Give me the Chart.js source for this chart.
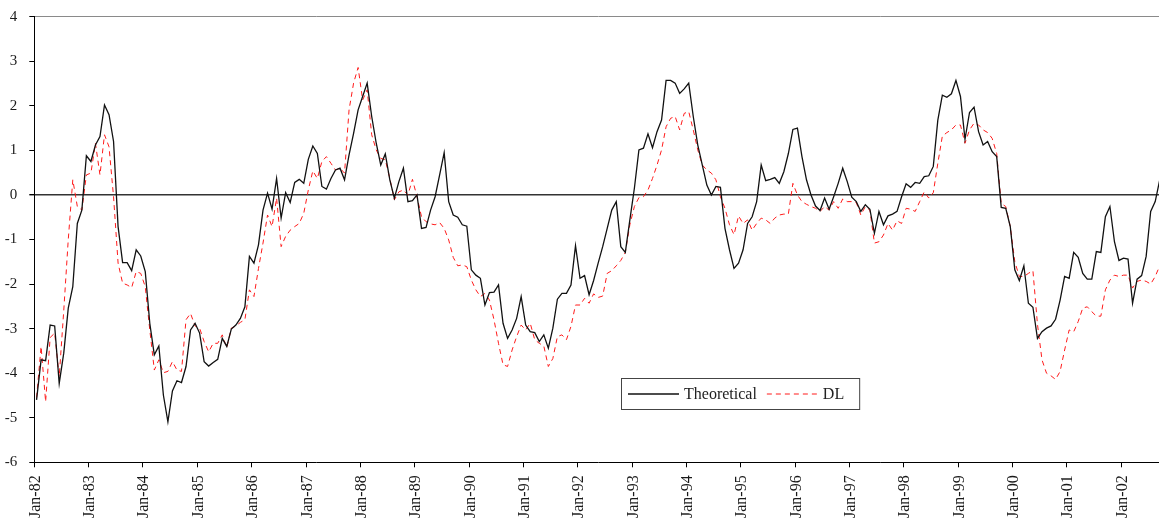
<!DOCTYPE html>
<html>
<head>
<meta charset="utf-8">
<script src="https://cdn.jsdelivr.net/npm/chart.js@4.4.1/dist/chart.umd.min.js"></script>
<style>
  html, body { margin: 0; padding: 0; background: #fff; overflow: hidden; }
  #wrap { width: 1163px; height: 524px; position: relative; }
</style>
</head>
<body>
<div id="wrap"><canvas id="chart"></canvas></div>
<script>
// Monthly series, Jan-82 .. Sep-02
const startYear = 1982;
const monthNames = ['Jan','Feb','Mar','Apr','May','Jun','Jul','Aug','Sep','Oct','Nov','Dec'];

const yearTicks = ['Jan-82','Jan-83','Jan-84','Jan-85','Jan-86','Jan-87','Jan-88','Jan-89','Jan-90','Jan-91',
                   'Jan-92','Jan-93','Jan-94','Jan-95','Jan-96','Jan-97','Jan-98','Jan-99','Jan-00','Jan-01','Jan-02'];

const theoretical = [
  -4.60, -3.70, -3.72, -2.92, -2.94, -4.23, -3.55, -2.54, -2.06, -0.64, -0.34,  0.88, // 1982
   0.75,  1.12,  1.31,  2.02,  1.80,  1.20, -0.71, -1.52, -1.52, -1.70, -1.23, -1.37, // 1983
  -1.72, -2.88, -3.59, -3.39, -4.49, -5.09, -4.40, -4.17, -4.21, -3.85, -3.03, -2.88, // 1984
  -3.10, -3.74, -3.84, -3.76, -3.69, -3.22, -3.40, -3.01, -2.92, -2.77, -2.51, -1.38, // 1985
  -1.53, -1.12, -0.34,  0.04, -0.32,  0.37, -0.52,  0.05, -0.17,  0.28,  0.35,  0.26, // 1986
   0.80,  1.10,  0.93,  0.19,  0.13,  0.37,  0.56,  0.60,  0.34,  0.90,  1.38,  1.91, // 1987
   2.21,  2.51,  1.76,  1.16,  0.67,  0.92,  0.34, -0.07,  0.30,  0.60, -0.15, -0.13, // 1988
   0.00, -0.75, -0.73, -0.34, -0.04,  0.45,  0.95, -0.15, -0.45, -0.50, -0.67, -0.70, // 1989
  -1.68, -1.80, -1.87, -2.47, -2.19, -2.18, -2.02, -2.88, -3.22, -3.03, -2.77, -2.28, // 1990
  -2.92, -3.07, -3.09, -3.29, -3.14, -3.44, -2.99, -2.34, -2.21, -2.21, -2.02, -1.14, // 1991
  -1.87, -1.81, -2.24, -1.92, -1.53, -1.16, -0.75, -0.34, -0.15, -1.16, -1.29, -0.56, // 1992
   0.15,  1.01,  1.05,  1.37,  1.06,  1.42,  1.68,  2.57,  2.57,  2.51,  2.28,  2.38, // 1993
   2.51,  1.76,  1.12,  0.67,  0.22,  0.00,  0.19,  0.17, -0.75, -1.23, -1.65, -1.53, // 1994
  -1.23, -0.64, -0.49, -0.15,  0.67,  0.32,  0.35,  0.39,  0.26,  0.52,  0.93,  1.47, // 1995
   1.50,  0.86,  0.34,  0.00, -0.25, -0.35, -0.07, -0.32, -0.04,  0.26,  0.60,  0.30, // 1996
  -0.05, -0.15, -0.37, -0.22, -0.32, -0.86, -0.37, -0.67, -0.47, -0.43, -0.37, -0.04, // 1997
   0.25,  0.17,  0.28,  0.26,  0.41,  0.43,  0.64,  1.68,  2.24,  2.19,  2.27,  2.57, // 1998
   2.21,  1.25,  1.85,  1.97,  1.42,  1.12,  1.20,  0.97,  0.86, -0.28, -0.30, -0.71, // 1999
  -1.68, -1.92, -1.59, -2.43, -2.52, -3.22, -3.07, -2.99, -2.94, -2.79, -2.36, -1.83, // 2000
  -1.87, -1.29, -1.40, -1.76, -1.89, -1.89, -1.27, -1.29, -0.49, -0.26, -1.05, -1.47, // 2001
  -1.42, -1.44, -2.43, -1.89, -1.81, -1.38, -0.37, -0.15,  0.34                       // 2002
];

const dl = [
  -4.55, -3.40, -4.64, -3.20, -3.10, -4.08, -2.60, -1.00,  0.34, -0.26, -0.34,  0.45, // 1982
   0.49,  1.16,  0.45,  1.35,  1.08, -0.04, -1.53, -1.98, -2.02, -2.08, -1.72, -1.76, // 1983
  -2.06, -3.03, -3.93, -3.70, -3.99, -3.96, -3.74, -3.93, -3.96, -2.80, -2.66, -2.94, // 1984
  -2.99, -3.29, -3.52, -3.33, -3.33, -3.14, -3.43, -2.99, -2.94, -2.86, -2.80, -2.13, // 1985
  -2.28, -1.65, -1.08, -0.45, -0.71, -0.07, -1.16, -0.93, -0.79, -0.71, -0.64, -0.41, // 1986
   0.11,  0.54,  0.37,  0.75,  0.86,  0.71,  0.56,  0.60,  0.49,  1.91,  2.51,  2.86, // 1987
   2.13,  2.36,  1.35,  1.01,  0.82,  0.79,  0.37, -0.11,  0.07,  0.11,  0.00,  0.35, // 1988
  -0.04, -0.49, -0.60, -0.65, -0.67, -0.62, -0.75, -1.01, -1.40, -1.59, -1.57, -1.61, // 1989
  -1.91, -2.13, -2.28, -2.21, -2.36, -2.80, -3.33, -3.81, -3.85, -3.48, -3.18, -2.92, // 1990
  -3.03, -2.88, -3.25, -3.33, -3.39, -3.85, -3.67, -3.18, -3.14, -3.25, -2.95, -2.47, // 1991
  -2.47, -2.32, -2.43, -2.22, -2.30, -2.27, -1.76, -1.70, -1.59, -1.47, -1.29, -0.67, // 1992
  -0.26, -0.06, -0.04,  0.11,  0.37,  0.67,  1.01,  1.53,  1.72,  1.76,  1.46,  1.83, // 1993
   1.87,  1.46,  1.01,  0.67,  0.56,  0.49,  0.34, -0.04, -0.30, -0.67, -0.89, -0.47, // 1994
  -0.64, -0.56, -0.79, -0.64, -0.52, -0.56, -0.64, -0.52, -0.45, -0.43, -0.43,  0.26, // 1995
   0.00, -0.15, -0.21, -0.26, -0.30, -0.37, -0.26, -0.34, -0.15, -0.30, -0.09, -0.15, // 1996
  -0.15, -0.17, -0.45, -0.26, -0.34, -1.08, -1.05, -0.90, -0.64, -0.79, -0.58, -0.64, // 1997
  -0.30, -0.32, -0.37, -0.15,  0.07, -0.07,  0.05,  0.71,  1.32,  1.40,  1.46,  1.57, // 1998
   1.57,  1.16,  1.46,  1.61,  1.57,  1.46,  1.40,  1.27,  0.93, -0.19, -0.26, -0.71, // 1999
  -1.50, -1.83, -1.83, -1.76, -1.70, -2.90, -3.70, -4.00, -4.06, -4.14, -3.96, -3.48, // 2000
  -3.03, -3.07, -2.84, -2.54, -2.51, -2.62, -2.72, -2.72, -2.13, -1.91, -1.80, -1.83, // 2001
  -1.80, -1.80, -2.09, -1.94, -1.91, -1.94, -2.00, -1.83, -1.59                       // 2002
];

// Category labels such as "Mar-91", one per observation
const months = theoretical.map((_, i) => {
  const y = startYear + Math.floor(i / 12);
  return monthNames[i % 12] + '-' + String(y % 100).padStart(2, '0');
});

const serif = "'Liberation Serif', 'Times New Roman', serif";

// Boxed legend drawn inside the plot area, below the curves
const boxLegend = {
  id: 'boxLegend',
  afterDraw(chart, args, opts) {
    const ctx = chart.ctx;
    const x = opts.x, y = opts.y, h = opts.height;
    ctx.save();
    ctx.font = '16px ' + serif;
    const pad = 7, sample = 51, gapText = 5, gapItem = 10;
    let w = pad;
    const items = chart.data.datasets.map(ds => ({ ds, tw: ctx.measureText(ds.label).width }));
    items.forEach((it, k) => { w += sample + gapText + it.tw + (k < items.length - 1 ? gapItem : 0); });
    w += pad + 8;
    ctx.fillStyle = '#fff';
    ctx.fillRect(x, y, w, h);
    ctx.strokeStyle = '#444';
    ctx.lineWidth = 1;
    ctx.strokeRect(x + 0.5, y + 0.5, w, h);
    const midY = y + h / 2 + 0.5;
    let cx = x + pad;
    items.forEach(it => {
      ctx.beginPath();
      ctx.strokeStyle = it.ds.borderColor;
      ctx.lineWidth = it.ds.borderWidth;
      ctx.setLineDash(it.ds.borderDash || []);
      ctx.moveTo(cx, midY);
      ctx.lineTo(cx + sample, midY);
      ctx.stroke();
      ctx.setLineDash([]);
      cx += sample + gapText;
      ctx.fillStyle = '#222';
      ctx.textBaseline = 'middle';
      ctx.textAlign = 'left';
      ctx.fillText(it.ds.label, cx, midY + 1);
      cx += it.tw + gapItem;
    });
    ctx.restore();
  }
};

new Chart(document.getElementById('chart'), {
  type: 'line',
  data: {
    labels: months,
    datasets: [
      {
        label: 'Theoretical',
        data: theoretical,
        borderColor: '#111',
        borderWidth: 1.3,
        pointRadius: 0,
        tension: 0,
        fill: false,
        order: 1
      },
      {
        label: 'DL',
        data: dl,
        borderColor: '#ff1a1a',
        borderWidth: 1,
        borderDash: [5, 4],
        pointRadius: 0,
        tension: 0,
        fill: false,
        order: 2
      }
    ]
  },
  options: {
    responsive: true,
    maintainAspectRatio: false,
    animation: false,
    layout: { padding: { top: 16.7, right: 1, left: 0, bottom: 0 } },
    plugins: {
      legend: { display: false },
      tooltip: { enabled: false },
      boxLegend: { x: 621, y: 378, height: 31 }
    },
    scales: {
      x: {
        type: 'category',
        offset: true,
        border: { display: true, color: '#000', width: 1 },
        grid: {
          offset: true,
          drawOnChartArea: false,
          drawTicks: true,
          tickLength: 5,
          tickWidth: 1,
          tickColor: ctx => (ctx.index % 12 === 0 ? '#000' : 'rgba(0,0,0,0)')
        },
        ticks: {
          autoSkip: false,
          minRotation: 90,
          maxRotation: 90,
          padding: 8,
          labelOffset: -1,
          color: '#1a1a1a',
          font: { family: serif, size: 16 },
          callback: function (value) {
            const l = this.getLabelForValue(value);
            return yearTicks.includes(l) ? l : '';
          }
        },
        afterFit: scale => {
          scale.height = 61.7;
          scale.paddingLeft = 0;
          scale.paddingRight = 0;
        }
      },
      y: {
        min: -6,
        max: 4,
        border: { display: true, color: '#000', width: 1 },
        grid: {
          drawOnChartArea: true,
          drawTicks: true,
          tickLength: 5,
          tickColor: '#000',
          color: ctx => (ctx.tick && ctx.tick.value === 0 ? '#333'
                        : ctx.tick && ctx.tick.value === 4 ? '#8a8a8a' : 'rgba(0,0,0,0)'),
          lineWidth: ctx => (ctx.tick && ctx.tick.value === 0 ? 1.4 : 1)
        },
        ticks: {
          stepSize: 1,
          padding: 12,
          color: '#1a1a1a',
          font: { family: serif, size: 15 }
        },
        afterFit: scale => {
          scale.width = 34.3;
          scale.paddingTop = 0;
          scale.paddingBottom = 0;
        }
      }
    }
  },
  plugins: [boxLegend]
});
</script>
</body>
</html>
